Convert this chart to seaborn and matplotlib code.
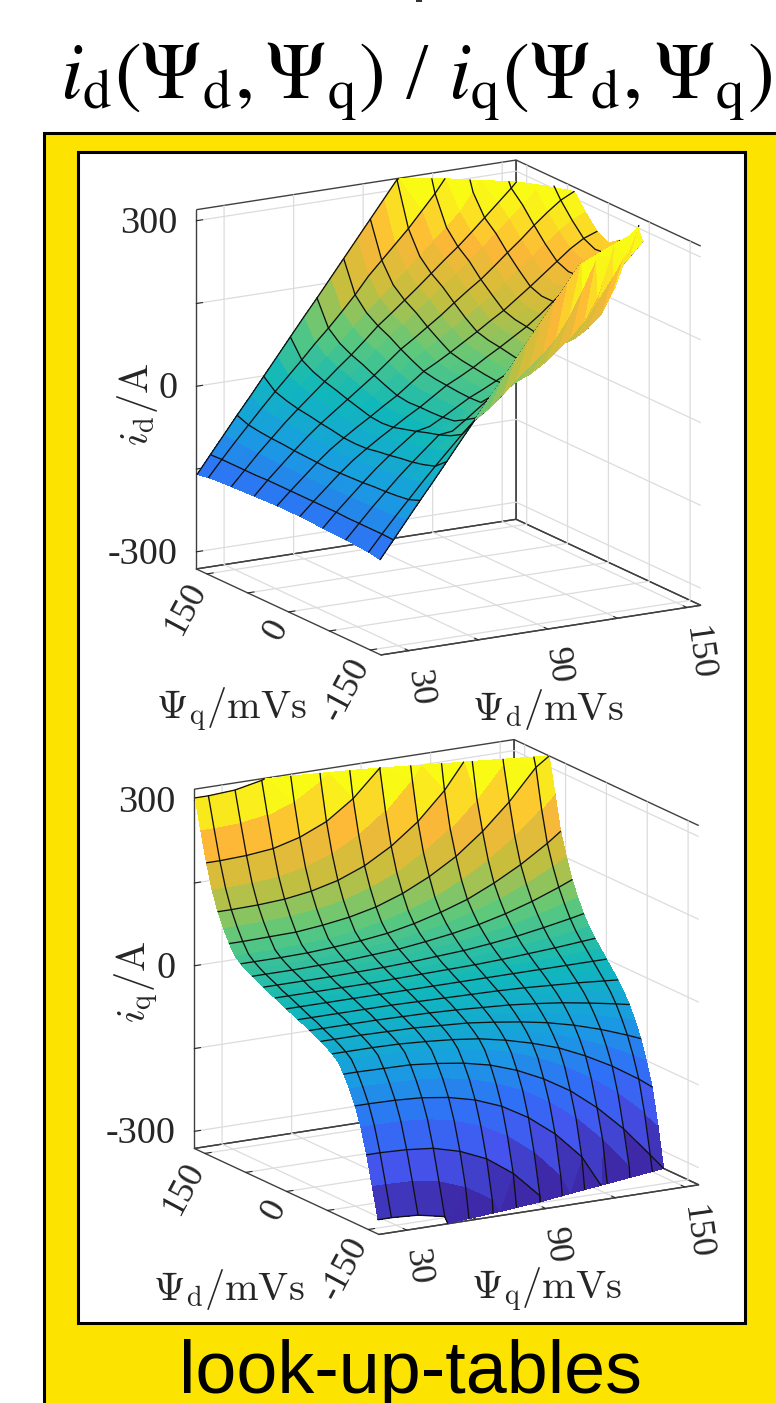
import numpy as np
import matplotlib
matplotlib.use("Agg")
import matplotlib.pyplot as plt
from matplotlib.patches import Rectangle
import seaborn as sns

nan = np.nan

# -----------------------------------------------------------------------------
# Data
# -----------------------------------------------------------------------------

# Upper map: columns along the 30..150 axis, rows along the -150..150 axis
id_x = [18, 23.75, 29.5, 35.25, 41, 46.75, 52.5, 58.25, 64, 69.75, 75.5, 81.25, 87,
        92.75, 98.5, 104.25, 110, 115.75, 121.5, 127.25, 133, 138.75, 144.5, 150.25, 156]
id_y = [168, 147, 126, 105, 84, 63, 42, 21, 0, -21, -42, -63, -84, -105, -126, -147, -168]

id_map = [
    [-159, -127, -95, -63, -32, 0, 32, 64, 96, 127, 159, 191, 223, 255, 287, 319, nan, nan, nan, nan, nan, nan, nan, nan, nan],
    [-155, -126, -98, -71, -44, -18, 7, 32, 58, 82, 108, 135, 165, 190, 215, 240, 268, 296, nan, nan, nan, nan, nan, nan, nan],
    [-153, -126, -99, -74, -49, -25, -3, 20, 42, 64, 88, 112, 133, 155, 177, 199, 222, 244, 267, 300, nan, nan, nan, nan, nan],
    [-152, -126, -100, -76, -52, -30, -9, 12, 33, 53, 75, 98, 117, 137, 157, 178, 199, 219, 241, 264, 287, 310, nan, nan, nan],
    [-151, -126, -101, -77, -54, -33, -13, 6, 26, 45, 66, 88, 105, 124, 143, 163, 182, 202, 223, 245, 266, 289, 311, nan, nan],
    [-150, -125, -102, -79, -57, -37, -19, -1, 17, 35, 55, 75, 91, 108, 125, 144, 162, 179, 199, 220, 240, 262, 282, 300, 312],
    [-149, -125, -102, -80, -59, -40, -24, -7, 10, 26, 45, 64, 78, 94, 110, 126, 143, 160, 178, 198, 217, 237, 257, 273, 284],
    [-148, -125, -103, -81, -61, -44, -28, -13, 3, 18, 36, 54, 67, 81, 96, 111, 127, 142, 160, 178, 197, 216, 235, 250, 259],
    [-148, -125, -103, -82, -62, -45, -30, -15, 0, 15, 32, 50, 62, 76, 90, 105, 120, 135, 152, 170, 188, 207, 225, 240, 248],
    [-148, -125, -103, -81, -61, -44, -28, -13, 2, 16, 32, 48, 60, 73, 88, 102, 117, 132, 150, 170, 190, 208, 222, 242, 262],
    [-149, -125, -102, -80, -59, -40, -24, -7, 3, 16, 32, 46, 58, 70, 84, 98, 112, 128, 148, 168, 188, 210, 228, 248, 265],
    [-150, -125, -102, -79, -57, -37, -19, -1, 4, 17, 31, 45, 56, 68, 80, 94, 108, 124, 140, 158, 176, 205, 232, 255, 280],
    [-151, -126, -101, -77, -54, -33, -13, 6, 8, 20, 33, 46, 58, 70, 82, 98, 112, 128, 135, 150, 172, 215, 275, nan, nan],
    [-152, -126, -100, -76, -52, -30, -9, 12, 15, 32, 50, 68, 85, 100, 115, 130, 148, 165, 178, 215, 250, 288, nan, nan, nan],
    [-153, -126, -99, -74, -49, -25, -3, 20, 35, 45, 65, 85, 100, 110, 125, 145, 165, 190, 230, 300, nan, nan, nan, nan, nan],
    [-155, -126, -98, -71, -44, -18, 7, 32, 55, 72, 92, 115, 135, 155, 180, 215, 260, 310, nan, nan, nan, nan, nan, nan, nan],
    [-159, -127, -95, -63, -32, 0, 32, 64, 96, 127, 159, 191, 223, 255, 287, 319, nan, nan, nan, nan, nan, nan, nan, nan, nan],
]
# where each row of the map runs out of the top of the box
id_end_x = [105, 120, 130, 141, 146.3, 156, 156, 156, 156, 156, 156, 156, 149, 141, 128.5, 116.5, 105]
id_end_z = [320] * 17

# Lower map
iq_x = [18, 23.75, 35.25, 46.75, 58.25, 69.75, 81.25, 92.75, 104.25, 115.75, 127.25, 138.75, 150.25, 156]
iq_y = [168, 157.5, 147, 136.5, 126, 115.5, 105, 94.5, 84, 73.5, 63, 52.5, 42, 31.5, 21, 10.5, 0,
        -10.5, -21, -31.5, -42, -52.5, -63, -73.5, -84, -94.5, -105, -115.5, -126, -136.5, -147, -157.5, -168]

# Only the +Psi_d half is listed, the map is antisymmetric about Psi_d = 0
iq_half = [
    [305, 305, 308, 318, nan, nan, nan, nan, nan, nan, nan, nan, nan, nan],
    [250, 250, 252, 260, 278, 308, nan, nan, nan, nan, nan, nan, nan, nan],
    [197, 197, 199, 204, 217, 238, 272, 320, nan, nan, nan, nan, nan, nan],
    [152, 152, 153, 157, 167, 184, 210, 247, 298, nan, nan, nan, nan, nan],
    [118, 118, 119, 122, 129, 141, 160, 188, 225, 274, nan, nan, nan, nan],
    [92, 92, 93, 95, 100, 109, 124, 144, 173, 209, 256, 313, nan, nan],
    [70, 70, 71, 72, 77, 84, 95, 112, 135, 164, 202, 248, 303, nan],
    [52, 52, 52, 54, 57, 63, 72, 85, 102, 125, 154, 189, 232, 257],
    [43, 43, 43, 44, 47, 51, 57, 67, 80, 96, 118, 144, 175, 193],
    [36, 36, 36, 37, 39, 42, 47, 54, 64, 77, 93, 113, 137, 151],
    [30, 30, 30, 31, 32, 35, 38, 44, 51, 60, 72, 87, 105, 115],
    [25, 25, 25, 26, 27, 28, 31, 35, 40, 47, 56, 67, 80, 87],
    [20, 20, 20, 20, 21, 22, 24, 27, 30, 35, 41, 49, 58, 63],
    [14, 14, 14, 14, 15, 16, 17, 19, 21, 25, 29, 34, 40, 44],
    [10, 10, 10, 10, 10, 11, 12, 13, 14, 16, 19, 22, 26, 28],
    [5, 5, 5, 5, 5, 5, 6, 6, 7, 8, 9, 11, 13, 14],
    [0, 0, 0, 0, 0, 0, 0, 0, 0, 0, 0, 0, 0, 0],
]
iq_end_x_half = [48, 72.7, 93, 108, 124, 140, 156, 156, 156, 156, 156, 156, 156, 156, 156, 156, 156]

# Tick labels
x_ticks = [30, 60, 90, 120, 150]
x_labels = ["30", "", "90", "", "150"]
y_ticks = [150, 75, 0, -75, -150]
y_labels = ["150", "", "0", "", "-150"]
z_ticks = [300, 150, 0, -150, -300]
z_labels = ["300", "", "0", "", "-300"]

parula_stops = ["#3E2AA8", "#4455EE", "#2F72F6", "#189FE0", "#10B8BA", "#5CC87C",
                "#C8BE3C", "#FDB838", "#F9FB15"]

# -----------------------------------------------------------------------------
# Plotting attributes
# -----------------------------------------------------------------------------

sns.set_theme(style="white")
plt.rcParams["font.family"] = ["Liberation Serif", "DejaVu Sans"]
plt.rcParams["mathtext.fontset"] = "cm"

W, H = 776, 1403
elev, azim = 15.6, -120
xlim, ylim, zlim = (18, 156), (-169.5, 169.5), (-331, 320)
cmap = sns.blend_palette(parula_stops, n_colors=40, as_cmap=True)
cmap.set_bad((1, 1, 1, 0))

fig = plt.figure(figsize=(W / 100, H / 100), dpi=100, facecolor="white")


def fx(x):
    return x / W


def fy(y):
    return 1 - y / H


def frame(x0, y0, x1, y1, face, order, lw=2.2):
    fig.add_artist(Rectangle((fx(x0), fy(y1)), (x1 - x0) / W, (y1 - y0) / H, transform=fig.transFigure,
                             facecolor=face, edgecolor="black", linewidth=lw, zorder=order))


def backface_vertices(X, Y, Z):
    # cells whose underside looks at the viewer, they have to hide the mesh lines
    xs = (X - xlim[0]) / (xlim[1] - xlim[0])
    ys = (Y - ylim[0]) / (ylim[1] - ylim[0])
    zs = (Z - zlim[0]) / (zlim[1] - zlim[0])
    d1 = np.stack([xs[1:, 1:] - xs[:-1, :-1], ys[1:, 1:] - ys[:-1, :-1], zs[1:, 1:] - zs[:-1, :-1]], axis=-1)
    d2 = np.stack([xs[1:, :-1] - xs[:-1, 1:], ys[1:, :-1] - ys[:-1, 1:], zs[1:, :-1] - zs[:-1, 1:]], axis=-1)
    n = np.cross(d1, d2)
    n = n * np.sign(n[..., 2])[..., None]
    e, a = np.radians(elev), np.radians(azim)
    view = np.array([np.cos(e) * np.cos(a), np.cos(e) * np.sin(a), np.sin(e)])
    back = (n @ view) < 0
    v = np.zeros(Z.shape, dtype=bool)
    v[:-1, :-1] |= back
    v[1:, :-1] |= back
    v[:-1, 1:] |= back
    v[1:, 1:] |= back
    return v


def panel(cx, cy, x, y, Z, end_x, end_z, wire_cols, wire_rows):
    size = 623
    left = cx - size * 0.95 / 1.85
    bottom = cy + size * 0.95 / 1.85
    ax = fig.add_axes([fx(left), fy(bottom), size / W, size / H], projection="3d",
                      proj_type="ortho", computed_zorder=False)
    ax.patch.set_alpha(0)
    ax.view_init(elev=elev, azim=azim)
    ax.set_box_aspect((1, 1, 1.01))
    ax.set_xlim(*xlim, view_margin=0)
    ax.set_ylim(*ylim, view_margin=0)
    ax.set_zlim(*zlim, view_margin=0)

    x, y = np.array(x, float), np.array(y, float)
    Z = np.array(Z, float)
    end_x = np.array(end_x, float)
    X, Y = np.meshgrid(x, y)
    # pull the cut off cells of each row onto the edge of the box so the border stays clean
    Xc, Zc = X.copy(), Z.copy()
    for r in range(Z.shape[0]):
        gone = np.isnan(Z[r])
        Xc[r, gone] = end_x[r]
        Zc[r, gone] = end_z[r]

    ax.plot_surface(Xc, Y, Zc, cmap=cmap, vmin=-300, vmax=300, rstride=1, cstride=1,
                    linewidth=0, antialiased=False, shade=False, zorder=1)

    mid = len(y) // 2
    for c in wire_cols:
        ok = np.where(~np.isnan(Z[:, c]))[0]
        i0, i1 = ok[0], ok[-1]
        xs, ys, zs = list(X[i0:i1 + 1, c]), list(Y[i0:i1 + 1, c]), list(Z[i0:i1 + 1, c])
        if i0 > 0:
            xs.insert(0, x[c])
            ys.insert(0, np.interp(x[c], end_x[:mid], y[:mid]))
            zs.insert(0, end_z[0])
        if i1 < len(y) - 1:
            xs.append(x[c])
            ys.append(np.interp(x[c], end_x[mid:][::-1], y[mid:][::-1]))
            zs.append(end_z[-1])
        ax.plot(xs, ys, zs, color="#111111", lw=0.95, zorder=2)
    for r in wire_rows:
        ax.plot(Xc[r, :], Y[r, :], Zc[r, :], color="#111111", lw=0.95, zorder=2)

    v = backface_vertices(Xc, Y, Zc)
    if v.any():
        ax.plot_surface(Xc, Y, np.where(v, Zc, nan), cmap=cmap, vmin=-300, vmax=300, rstride=1, cstride=1,
                        linewidth=0, antialiased=False, shade=False, zorder=3)

    ax.set_xticks(x_ticks, labels=x_labels, rotation=-82, fontsize=26, ha="left", va="center",
                  rotation_mode="anchor")
    ax.set_yticks(y_ticks, labels=y_labels, rotation=62, fontsize=26, ha="right", va="center",
                  rotation_mode="anchor")
    ax.set_zticks(z_ticks, labels=z_labels, fontsize=27.5, ha="right", va="center_baseline")
    ax.tick_params(axis="x", pad=2, colors="#262626")
    ax.tick_params(axis="y", pad=-2, colors="#262626")
    ax.tick_params(axis="z", pad=0.5, colors="#262626")

    for axis in (ax.xaxis, ax.yaxis, ax.zaxis):
        axis.pane.set_alpha(None)
        axis.pane.set_facecolor((1, 1, 1, 0))
        axis.pane.set_edgecolor("#404040")
        axis.pane.set_linewidth(1.0)
        axis.line.set_color("#404040")
        axis.line.set_linewidth(1.0)
        axis._axinfo["grid"].update(color="#dcdcdc", linewidth=0.9)
        axis._axinfo["tick"].update(inward_factor=0.0, outward_factor=0.25, linewidth={True: 0.8, False: 0.8})
    ax.grid(True)
    return ax


# -----------------------------------------------------------------------------
# Plot
# -----------------------------------------------------------------------------

fig.add_artist(Rectangle((fx(416), fy(2)), 6 / W, 2 / H, transform=fig.transFigure, facecolor="#333333",
                         edgecolor="none"))
frame(44, 133, W + 10, H + 10, "#FCE300", -3)
frame(78, 152, 745, 1323, "white", -2)

iq_half_arr = np.array(iq_half, dtype=float)
iq_map = np.vstack([iq_half_arr, -iq_half_arr[-2::-1]])
iq_end_x = iq_end_x_half + iq_end_x_half[-2::-1]
iq_end_z = [320] * 17 + [-331] * 16

panel(448.5, 407.5, id_x, id_y, id_map, id_end_x, id_end_z, range(1, 25, 2), [0] + list(range(1, 17, 2)) + [16])
panel(446.5, 987, iq_x, iq_y, iq_map, iq_end_x, iq_end_z, range(1, 13), range(0, 33, 2))

# Axis labels
label_size = 29
for x, y, s, rot in [(231, 710, r"$\Psi_{\mathrm{q}}/\mathrm{mVs}$", 0),
                     (548, 710, r"$\Psi_{\mathrm{d}}/\mathrm{mVs}$", 0),
                     (137, 404, r"$i_{\mathrm{d}}/\mathrm{A}$", 90),
                     (229, 1290, r"$\Psi_{\mathrm{d}}/\mathrm{mVs}$", 0),
                     (546, 1290, r"$\Psi_{\mathrm{q}}/\mathrm{mVs}$", 0),
                     (137, 982, r"$i_{\mathrm{q}}/\mathrm{A}$", 90)]:
    fig.text(fx(x), fy(y), s, fontsize=label_size, rotation=rot, ha="center", va="center", color="#262626")

# Title and caption
fig.text(fx(60), fy(98), r"$i_{\mathrm{d}}(\Psi_{\mathrm{d}},\Psi_{\mathrm{q}})$ / $i_{\mathrm{q}}(\Psi_{\mathrm{d}},\Psi_{\mathrm{q}})$",
         fontsize=58, ha="left", va="baseline", color="black", math_fontfamily="stix", family="Liberation Serif")
fig.text(fx(410.5), fy(1393), "look-up-tables", fontsize=53, ha="center", va="baseline", color="black",
         family="Liberation Sans")

fig.savefig("out.png", dpi=100)
